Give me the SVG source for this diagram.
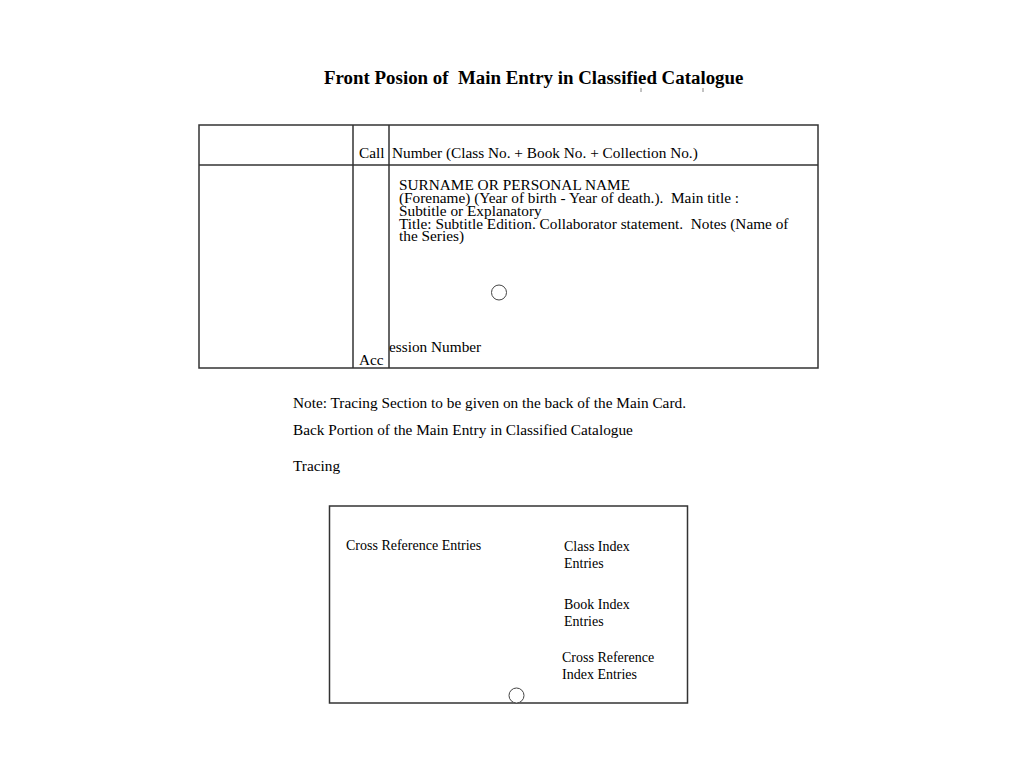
<svg xmlns="http://www.w3.org/2000/svg" width="1024" height="768" viewBox="0 0 1024 768">
<style>
.t{font-family:"Liberation Serif","Times New Roman",serif;fill:#000;white-space:pre;}
.b{font-size:15.3px;}
.s{font-size:14px;}
.ln{stroke:#333;stroke-width:1.5;fill:none;}
.c{stroke:#444;stroke-width:1;fill:#fff;}
</style>
<rect width="1024" height="768" fill="#fff"/>
<g id="title">
<text class="t" x="324" y="84" font-size="18.9" font-weight="bold" xml:space="preserve">Front Posion of  Main Entry in Classified Catalogue</text>
<line x1="641" y1="88" x2="641" y2="92" stroke="#666" stroke-width="0.8"/>
<line x1="703" y1="88" x2="703" y2="92" stroke="#666" stroke-width="0.8"/>
</g>
<g id="front-card">
<rect class="ln" x="199" y="125" width="619" height="243"/>
<line class="ln" x1="199" y1="165" x2="818" y2="165"/>
<line class="ln" x1="353" y1="125" x2="353" y2="368"/>
<line class="ln" x1="389" y1="125" x2="389" y2="368"/>
<text class="t b" x="359" y="158">Call</text>
<text class="t b" x="392" y="158">Number (Class No. + Book No. + Collection No.)</text>
<text class="t b" x="399" y="189.5">SURNAME OR PERSONAL NAME</text>
<text class="t b" x="399" y="203" xml:space="preserve">(Forename) (Year of birth - Year of death.).  Main title :</text>
<text class="t b" x="399" y="215.5">Subtitle or Explanatory</text>
<text class="t b" x="399" y="228.5" xml:space="preserve">Title: Subtitle Edition. Collaborator statement.  Notes (Name of</text>
<text class="t b" x="399" y="241">the Series)</text>
<circle class="c" cx="499" cy="292.5" r="7.5"/>
<text class="t b" x="389" y="352">ession Number</text>
<text class="t b" x="359" y="365">Acc</text>
</g>
<g id="notes">
<text class="t b" x="293" y="408">Note: Tracing Section to be given on the back of the Main Card.</text>
<text class="t b" x="293" y="435">Back Portion of the Main Entry in Classified Catalogue</text>
<text class="t b" x="293" y="471">Tracing</text>
</g>
<g id="back-card">
<rect class="ln" x="329.5" y="506" width="358" height="197"/>
<text class="t s" x="346" y="550">Cross Reference Entries</text>
<text class="t s" x="564" y="551">Class Index</text>
<text class="t s" x="564" y="568">Entries</text>
<text class="t s" x="564" y="609">Book Index</text>
<text class="t s" x="564" y="626">Entries</text>
<text class="t s" x="562" y="662">Cross Reference</text>
<text class="t s" x="562" y="679">Index Entries</text>
<circle class="c" cx="516.5" cy="695.5" r="7.5"/>
</g>
<g id="connectors"></g>
</svg>
